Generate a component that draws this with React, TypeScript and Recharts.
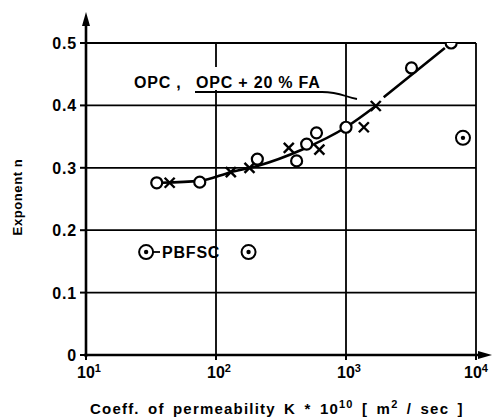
import { ComposedChart, Line, Scatter, XAxis, YAxis, CartesianGrid, Customized } from "recharts";

// OPC points (open circles)
const opcPoints = [
    { x: 35, y: 0.276 },
    { x: 75, y: 0.277 },
    { x: 208, y: 0.314 },
    { x: 417, y: 0.311 },
    { x: 498, y: 0.338 },
    { x: 593, y: 0.356 },
    { x: 1000, y: 0.365 },
    { x: 3190, y: 0.46 },
    { x: 6440, y: 0.5 },
];

// OPC + 20 % FA points (crosses)
const faPoints = [
    { x: 44, y: 0.276 },
    { x: 130, y: 0.293 },
    { x: 181, y: 0.3 },
    { x: 363, y: 0.332 },
    { x: 624, y: 0.329 },
    { x: 1372, y: 0.365 },
    { x: 1694, y: 0.399 },
];

// PBFSC points (circle with dot)
const pbfscPoints = [
    { x: 29, y: 0.165 },
    { x: 178, y: 0.165 },
    { x: 7940, y: 0.348 },
];

// fitted curve (null = small gap in the line)
const fitCurve = [
    { x: 38, y: 0.276 },
    { x: 75, y: 0.279 },
    { x: 130, y: 0.293 },
    { x: 208, y: 0.303 },
    { x: 457, y: 0.329 },
    { x: 1000, y: 0.365 },
    { x: 1694, y: 0.399 },
    { x: 1800, y: null },
    { x: 1950, y: 0.413 },
    { x: 5760, y: 0.492 },
];

const xTicks = [10, 100, 1000, 10000];
const xTickExp = ["1", "2", "3", "4"];
const yTicks = [0, 0.1, 0.2, 0.3, 0.4, 0.5];

const FONT = "'Liberation Sans', Arial, sans-serif";

const OpenCircle = (props: any) => (
    <circle cx={props.cx} cy={props.cy} r={5.5} fill="#fff" stroke="#000" strokeWidth={2.2} />
);

const Cross = (props: any) => {
    const { cx, cy } = props;
    const s = 5;
    return (
        <g stroke="#000" strokeWidth={2.4}>
            <line x1={cx - s} y1={cy - s} x2={cx + s} y2={cy + s} />
            <line x1={cx - s} y1={cy + s} x2={cx + s} y2={cy - s} />
        </g>
    );
};

const DotCircle = (props: any) => (
    <g>
        <circle cx={props.cx} cy={props.cy} r={7} fill="#fff" stroke="#000" strokeWidth={2} />
        <circle cx={props.cx} cy={props.cy} r={2.2} fill="#000" />
    </g>
);

const XTick = (props: any) => {
    const { x, y, payload } = props;
    const i = xTicks.indexOf(payload.value);
    return (
        <text x={x - 9} y={y + 16} fontFamily={FONT} fontWeight="bold" fontSize={16} fill="#000">
            10<tspan dy={-6} fontSize={11}>{xTickExp[i]}</tspan>
        </text>
    );
};

const YTick = (props: any) => {
    const { x, y, payload } = props;
    const label = payload.value === 0 ? "0" : payload.value.toFixed(1);
    return (
        <text x={x - 1} y={y + 6} textAnchor="end" fontFamily={FONT} fontWeight="bold" fontSize={16} letterSpacing={0.8} fill="#000">
            {label}
        </text>
    );
};

const Decorations = () => (
    <g>
        {/* gap in the grid behind the label */}
        <rect x={200} y={67} width={26} height={23} fill="#fff" />
        {/* axes with arrows */}
        <line x1={86} y1={357} x2={86} y2={22} stroke="#000" strokeWidth={2.6} />
        <polygon points="86,12 82,26 90,26" fill="#000" />
        <line x1={84} y1={355} x2={482} y2={355} stroke="#000" strokeWidth={2.6} />
        <polygon points="492,355 478,351 478,359" fill="#000" />
        {/* label */}
        <text x={134} y={88} fontFamily={FONT} fontWeight="bold" fontSize={16} letterSpacing={0.8} fill="#000">
            OPC ,
        </text>
        <text x={196} y={88} fontFamily={FONT} fontWeight="bold" fontSize={16} letterSpacing={0.8} fill="#000">
            OPC + 20 % FA
        </text>
        <path d="M195,92 L322,92 C340,92 345,97 357,99" fill="none" stroke="#000" strokeWidth={1.8} />
        <text x={162} y={258} fontFamily={FONT} fontWeight="bold" fontSize={16} letterSpacing={0.8} fill="#000">
            PBFSC
        </text>
        <line x1={152} y1={252} x2={160} y2={252} stroke="#000" strokeWidth={1.8} />
        {/* axis titles */}
        <text
            x={22}
            y={197}
            transform="rotate(-90 22 197)"
            textAnchor="middle"
            fontFamily={FONT}
            fontWeight="bold"
            fontSize={13}
            letterSpacing={0.6}
            fill="#000"
        >
            Exponent n
        </text>
        <text x={90} y={414} fontFamily={FONT} fontWeight="bold" fontSize={15} letterSpacing={1.2} wordSpacing={3} fill="#000">
            Coeff. of permeability K * 10<tspan dy={-6} fontSize={11}>10</tspan>
            <tspan dy={6}>{"  [ m"}</tspan>
            <tspan dy={-6} fontSize={11}>2</tspan>
            <tspan dy={6}>{" / sec ]"}</tspan>
        </text>
    </g>
);

export default function App() {
    return (
        <div style={{ position: "absolute", left: 0, top: 0 }}>
            <ComposedChart width={493} height={419} margin={{ top: 43, right: 17, bottom: 34, left: 56 }}>
                <CartesianGrid stroke="#000" strokeWidth={1.8} />
                <XAxis
                    type="number"
                    dataKey="x"
                    scale="log"
                    domain={[10, 10000]}
                    ticks={xTicks}
                    tick={<XTick />}
                    tickSize={5}
                    tickLine={{ stroke: "#000", strokeWidth: 2 }}
                    axisLine={false}
                    height={30}
                    allowDataOverflow
                />
                <YAxis
                    type="number"
                    dataKey="y"
                    domain={[0, 0.5]}
                    ticks={yTicks}
                    tick={<YTick />}
                    tickSize={6}
                    tickLine={{ stroke: "#000", strokeWidth: 2 }}
                    axisLine={false}
                    width={30}
                    allowDataOverflow
                />
                <Customized component={<Decorations />} />
                <Line
                    data={fitCurve}
                    dataKey="y"
                    type="monotone"
                    stroke="#000"
                    strokeWidth={2.6}
                    dot={false}
                    connectNulls={false}
                    isAnimationActive={false}
                />
                <Scatter data={opcPoints} shape={<OpenCircle />} isAnimationActive={false} />
                <Scatter data={faPoints} shape={<Cross />} isAnimationActive={false} />
                <Scatter data={pbfscPoints} shape={<DotCircle />} isAnimationActive={false} />
            </ComposedChart>
        </div>
    );
}
